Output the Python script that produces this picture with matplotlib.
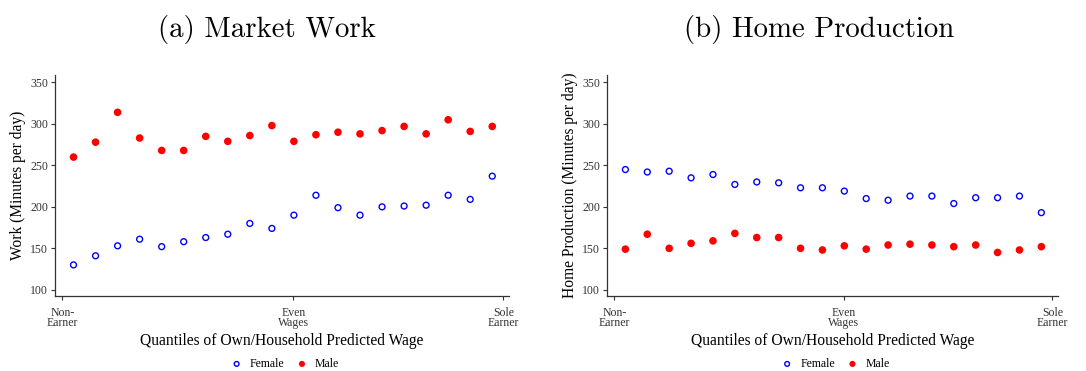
import numpy as np
import matplotlib
matplotlib.use('Agg')
import matplotlib.pyplot as plt

# ---------------------------------------------------------------------------
# Data
# ---------------------------------------------------------------------------
quantile_pos = np.arange(0.025, 1.0, 0.05)          # 20 bins, bin midpoints

work_female = [130, 141, 153, 161, 152, 158, 163, 167, 180, 174,
               190, 214, 199, 190, 200, 201, 202, 214, 209, 237]
work_male   = [260, 278, 314, 283, 268, 268, 285, 279, 286, 298,
               279, 287, 290, 288, 292, 297, 288, 305, 291, 297]

home_female = [245, 242, 243, 235, 239, 227, 230, 229, 223, 223,
               219, 210, 208, 213, 213, 204, 211, 211, 213, 193]
home_male   = [149, 167, 150, 156, 159, 168, 163, 163, 150, 148,
               153, 149, 154, 155, 154, 152, 154, 145, 148, 152]

xtick_pos    = [0.0, 0.524, 1.0]
xtick_labels = ['Non-\nEarner', 'Even\nWages', 'Sole\nEarner']
ytick_vals   = [100, 150, 200, 250, 300, 350]

panels = [
    ('(a) Market Work', 'Work (Minutes per day)', work_female, work_male),
    ('(b) Home Production', 'Home Production (Minutes per day)', home_female, home_male),
]

# ---------------------------------------------------------------------------
# Figure
# ---------------------------------------------------------------------------
W_PX, H_PX = 1086, 371
plt.rcParams['font.family'] = ['Liberation Serif', 'DejaVu Serif']

fig = plt.figure(figsize=(W_PX / 100, H_PX / 100), dpi=100)

axes_px   = [(55, 509), (607, 1058)]    # left/right edge of each axes, pixels
title_px  = [267, 819]
top_px, bot_px = 75, 296
axis_col = '#333333'

for (title, ylabel, fem, mal), (x0, x1), tx in zip(panels, axes_px, title_px):
    ax = fig.add_axes([x0 / W_PX, 1 - bot_px / H_PX,
                       (x1 - x0) / W_PX, (bot_px - top_px) / H_PX])
    ax.scatter(quantile_pos, fem, s=18, facecolors='none', edgecolors='#0000ff',
               linewidths=1.0, label='Female', zorder=3)
    ax.scatter(quantile_pos, mal, s=30, color='#ff0000', edgecolors='none',
               label='Male', zorder=3)

    ax.set_xlim(-0.017, 1.013)
    ax.set_ylim(92.5, 359)
    ax.set_xticks(xtick_pos)
    ax.set_xticklabels(xtick_labels, fontsize=8.5, linespacing=0.8, color=axis_col)
    ax.set_yticks(ytick_vals)
    ax.set_yticklabels([str(v) for v in ytick_vals], fontsize=8.5, color=axis_col)
    ax.tick_params(direction='out', length=3, width=0.8, color=axis_col, pad=2)
    ax.tick_params(axis='x', pad=5)

    for side in ['top', 'right']:
        ax.spines[side].set_visible(False)
    for side in ['left', 'bottom']:
        ax.spines[side].set_color(axis_col)
        ax.spines[side].set_linewidth(0.9)

    ax.set_ylabel(ylabel, fontsize=11.2, labelpad=3)
    ax.set_xlabel('Quantiles of Own/Household Predicted Wage', fontsize=11.2, labelpad=2.5)

    fig.text(tx / W_PX, 1 - 29 / H_PX, title, fontsize=20.8, family='cmr10',
             ha='center', va='center')

    ax.legend(loc='center', bbox_to_anchor=((x0 + x1) / 2 / W_PX, 1 - 364 / H_PX),
              bbox_transform=fig.transFigure, ncol=2, frameon=False, fontsize=8.5,
              handletextpad=0.1, columnspacing=0.5, markerscale=0.8,
              borderaxespad=0, borderpad=0)

fig.savefig('out.png', dpi=100)
